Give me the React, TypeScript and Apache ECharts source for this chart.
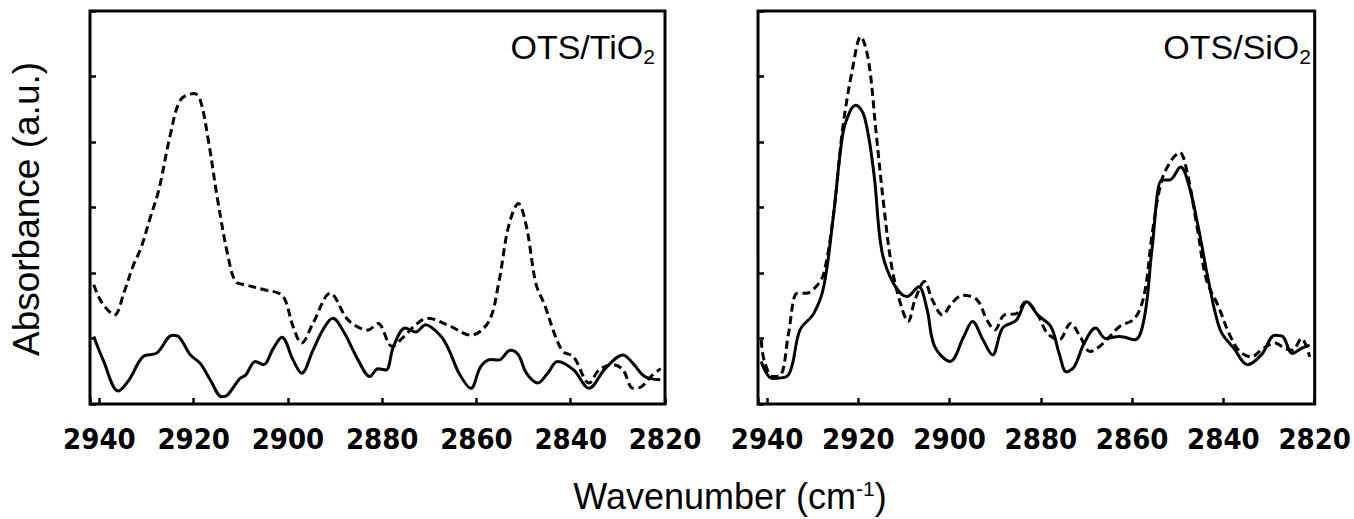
import React, { useEffect, useRef } from "react";
import * as echarts from "echarts";

// Wavenumber axis (cm-1), drawn reversed: 2942 on the left, 2820 on the right
const xTickLabels = [2940, 2920, 2900, 2880, 2860, 2840, 2820];

// OTS/TiO2 panel, dashed curve [wavenumber, absorbance]
const tio2Dashed: number[][] = [
  [2941.2, 1.82], [2939.5, 1.55], [2936.8, 1.36], [2934.8, 1.7], [2932.9, 2.1], [2931.2, 2.38],
  [2929.2, 2.85], [2927.4, 3.27], [2924.9, 4.13], [2922.8, 4.64], [2919.9, 4.74], [2918.6, 4.64],
  [2916.9, 4.03], [2914.9, 3.11], [2912.7, 2.25], [2911.1, 1.87], [2909.0, 1.82], [2904.8, 1.74],
  [2901.9, 1.69], [2900.6, 1.59], [2898.9, 1.18], [2897.1, 0.93], [2894.7, 1.23], [2891.0, 1.69],
  [2887.2, 1.28], [2883.0, 1.13], [2880.9, 1.23], [2877.9, 0.88], [2875.4, 1.03], [2872.9, 1.21],
  [2870.4, 1.31], [2865.4, 1.18], [2861.2, 1.05], [2857.4, 1.26], [2855.3, 1.84], [2853.2, 2.71],
  [2851.1, 3.06], [2849.4, 2.71], [2847.4, 1.84], [2845.7, 1.54], [2841.9, 0.82], [2839.4, 0.72],
  [2836.1, 0.32], [2834.0, 0.52], [2831.0, 0.6], [2828.9, 0.52], [2826.8, 0.24], [2825.1, 0.26],
  [2823.0, 0.42], [2820.9, 0.54],
];

// OTS/TiO2 panel, solid curve
const tio2Solid: number[][] = [
  [2941.2, 1.03], [2939.2, 0.67], [2936.0, 0.2], [2933.7, 0.37], [2930.8, 0.72], [2927.8, 0.78],
  [2924.5, 1.05], [2923.2, 1.03], [2920.7, 0.75], [2918.6, 0.62], [2916.5, 0.37], [2914.0, 0.11],
  [2912.8, 0.14], [2910.2, 0.39], [2909.0, 0.44], [2906.9, 0.65], [2905.2, 0.6], [2903.1, 0.85],
  [2901.3, 1.02], [2898.9, 0.67], [2897.1, 0.47], [2894.7, 0.82], [2892.6, 1.13], [2890.5, 1.31],
  [2888.0, 1.08], [2885.1, 0.67], [2882.6, 0.42], [2880.9, 0.54], [2879.2, 0.52], [2877.6, 0.88],
  [2875.1, 1.16], [2872.9, 1.1], [2870.8, 1.21], [2867.5, 1.03], [2865.8, 0.82], [2863.7, 0.47],
  [2861.2, 0.24], [2859.1, 0.57], [2857.0, 0.68], [2855.3, 0.67], [2852.8, 0.82], [2851.1, 0.75],
  [2849.4, 0.47], [2847.0, 0.32], [2844.9, 0.47], [2842.8, 0.65], [2839.4, 0.52], [2836.1, 0.24],
  [2832.7, 0.54], [2828.9, 0.75], [2826.8, 0.62], [2824.3, 0.42], [2821.0, 0.37],
];

// OTS/SiO2 panel, dashed curve
const sio2Dashed: number[][] = [
  [2941.3, 0.98], [2940.6, 0.65], [2938.7, 0.42], [2937.0, 0.44], [2935.3, 1.08], [2933.4, 1.69],
  [2931.5, 1.69], [2929.3, 1.79], [2927.6, 1.99], [2925.5, 2.86], [2923.4, 4.23], [2921.2, 5.15],
  [2919.5, 5.61], [2917.8, 5.25], [2916.1, 4.13], [2914.4, 3.01], [2912.7, 2.1], [2910.6, 1.49],
  [2909.1, 1.26], [2907.6, 1.59], [2905.5, 1.87], [2903.8, 1.59], [2901.6, 1.36], [2899.5, 1.54],
  [2897.1, 1.66], [2894.0, 1.59], [2891.8, 1.28], [2890.1, 1.13], [2888.0, 1.36], [2885.4, 1.38],
  [2883.3, 1.56], [2880.7, 1.36], [2878.6, 1.08], [2876.0, 0.98], [2873.5, 1.23], [2871.4, 1.03],
  [2869.2, 0.8], [2866.3, 0.93], [2862.8, 1.18], [2859.4, 1.31], [2857.3, 1.69], [2855.6, 2.61],
  [2853.5, 3.42], [2851.3, 3.73], [2849.6, 3.84], [2847.9, 3.52], [2845.8, 2.71], [2843.7, 1.89],
  [2841.1, 1.49], [2838.6, 1.05], [2836.4, 0.8], [2833.9, 0.72], [2831.3, 0.85], [2828.7, 0.93],
  [2826.6, 0.85], [2824.9, 0.82], [2822.9, 1.0], [2821.1, 0.72],
];

// OTS/SiO2 panel, solid curve
const sio2Solid: number[][] = [
  [2941.3, 0.65], [2938.9, 0.39], [2935.7, 0.42], [2934.5, 0.6], [2932.8, 1.13], [2929.8, 1.38],
  [2927.6, 1.79], [2925.5, 2.86], [2923.4, 4.13], [2921.7, 4.49], [2920.6, 4.56], [2918.7, 4.39],
  [2916.6, 3.52], [2914.9, 2.35], [2912.3, 1.84], [2909.3, 1.64], [2906.8, 1.79], [2905.0, 1.46],
  [2903.3, 0.88], [2899.9, 0.65], [2896.9, 1.03], [2895.0, 1.26], [2892.7, 0.98], [2890.6, 0.75],
  [2888.4, 1.16], [2885.4, 1.28], [2883.1, 1.56], [2880.7, 1.36], [2877.8, 1.18], [2876.0, 0.77],
  [2874.4, 0.49], [2872.7, 0.57], [2870.5, 0.93], [2868.0, 1.16], [2865.8, 1.0], [2862.8, 1.03],
  [2859.4, 0.98], [2857.3, 1.33], [2855.6, 2.4], [2853.5, 3.42], [2851.8, 3.42], [2849.4, 3.62],
  [2847.5, 3.32], [2845.4, 2.66], [2843.3, 1.89], [2840.7, 1.13], [2837.7, 0.85], [2834.7, 0.6],
  [2831.7, 0.75], [2828.7, 1.05], [2827.0, 1.03], [2824.9, 0.77], [2822.9, 0.85], [2821.1, 0.9],
];

const panelLabels = ["OTS/TiO", "OTS/SiO"];
const xTitle = "Wavenumber (cm";
const yTitle = "Absorbance (a.u.)";

const SANS = "'Liberation Sans', Arial, Helvetica, sans-serif";
const NARROW = "'Liberation Sans Narrow', 'Arial Narrow', 'DejaVu Sans Condensed', sans-serif";

function makeXAxis(gridIndex: number) {
  return {
    type: "value",
    gridIndex,
    min: 2820,
    max: 2942,
    interval: 20,
    inverse: true,
    axisLine: { show: false },
    axisTick: { show: true, inside: true, length: 6, lineStyle: { color: "#000", width: 2.5 } },
    axisLabel: {
      show: true,
      margin: 20,
      color: "#000",
      fontSize: 29,
      fontWeight: "bold",
      fontFamily: NARROW,
      formatter: (v: number) => (xTickLabels.indexOf(v) >= 0 ? String(v) : ""),
    },
    splitLine: { show: false },
  };
}

function makeYAxis(gridIndex: number) {
  return {
    type: "value",
    gridIndex,
    min: 0,
    max: 6,
    interval: 1,
    axisLine: { show: false },
    axisTick: { show: true, inside: true, length: 6, lineStyle: { color: "#000", width: 2.5 } },
    axisLabel: { show: false },
    splitLine: { show: false },
  };
}

function makeLine(data: number[][], idx: number, dashed: boolean) {
  return {
    type: "line",
    xAxisIndex: idx,
    yAxisIndex: idx,
    data,
    smooth: 0.35,
    symbol: "none",
    showSymbol: false,
    silent: true,
    lineStyle: { color: "#000", width: 3, type: dashed ? [8, 4.5] : "solid" },
  };
}

function panelLabel(text: string, x: number) {
  return {
    type: "text",
    x,
    y: 46.5,
    style: {
      text: `{m|${text}}{s|2}`,
      align: "right",
      verticalAlign: "middle",
      rich: {
        m: { fontSize: 34, fontFamily: SANS, fill: "#000", lineHeight: 41 },
        s: { fontSize: 21, fontFamily: SANS, fill: "#000", lineHeight: 21, verticalAlign: "bottom" },
      },
    },
  };
}

export default function App() {
  const ref = useRef<HTMLDivElement>(null);
  useEffect(() => {
    if (!ref.current) return;
    const chart = echarts.init(ref.current, null, { renderer: "svg" });
    chart.setOption({
      animation: false,
      backgroundColor: "#fff",
      grid: [
        { left: 90, right: 1354 - 665, top: 11, bottom: 519 - 404, show: true, borderColor: "#000", borderWidth: 3 },
        { left: 758, right: 1354 - 1322, top: 11, bottom: 519 - 404, show: true, borderColor: "#000", borderWidth: 3 },
      ],
      xAxis: [makeXAxis(0), makeXAxis(1)],
      yAxis: [makeYAxis(0), makeYAxis(1)],
      series: [
        makeLine(tio2Dashed, 0, true),
        makeLine(tio2Solid, 0, false),
        makeLine(sio2Dashed, 1, true),
        makeLine(sio2Solid, 1, false),
      ],
      graphic: [
        panelLabel(panelLabels[0], 655),
        panelLabel(panelLabels[1], 1311),
        {
          type: "text",
          x: 730,
          y: 496,
          style: {
            text: `{a|${xTitle}}{s|-1}{a|)}`,
            align: "center",
            verticalAlign: "middle",
            rich: {
              a: { fontSize: 36, fontFamily: SANS, fill: "#000", lineHeight: 36 },
              s: { fontSize: 21, fontFamily: SANS, fill: "#000", lineHeight: 21, verticalAlign: "top" },
            },
          },
        },
        {
          type: "text",
          x: 26,
          y: 209,
          rotation: Math.PI / 2,
          style: {
            text: yTitle,
            align: "center",
            verticalAlign: "middle",
            fontSize: 37,
            fontFamily: SANS,
            fill: "#000",
          },
        },
      ],
    });
    return () => chart.dispose();
  }, []);
  return (
    <div
      ref={ref}
      style={{ position: "fixed", left: 0, top: 0, width: 1354, height: 519, background: "#fff" }}
    />
  );
}
